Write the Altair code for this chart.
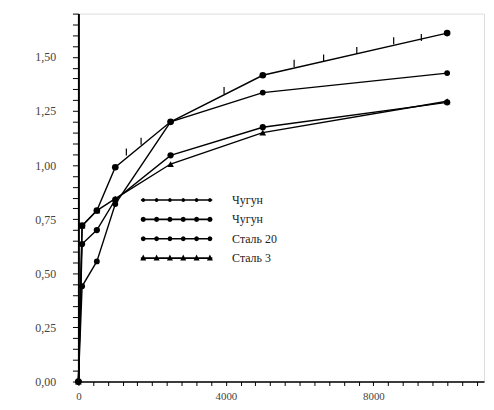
import altair as alt
import pandas as pd

# ---- data ----
x_vals = [0, 100, 500, 1000, 2500, 5000, 10000]
chugun_1 = [0.0, 0.72, 0.79, 0.99, 1.20, 1.415, 1.61]
chugun_2 = [0.0, 0.635, 0.70, 0.84, 1.045, 1.175, 1.29]
stal_20 = [0.0, 0.44, 0.555, 0.82, 1.20, 1.335, 1.425]
stal_3 = [0.0, 0.72, 0.79, 0.845, 1.005, 1.15, 1.295]

series_names = ["Чугун", "Чугун ", "Сталь 20", "Сталь 3"]
series_values = [chugun_1, chugun_2, stal_20, stal_3]

# intermediate cross marks on the upper curve
tick_x = [1300, 1700, 3950, 5850, 6650, 7550, 8550, 9300]
tick_y = [1.06, 1.11, 1.345, 1.47, 1.495, 1.53, 1.575, 1.59]

x_tick_values = list(range(0, 11000, 400))
y_tick_values = [round(i * 0.05, 2) for i in range(0, 35)]

rows = []
for name, vals in zip(series_names, series_values):
    for xv, yv in zip(x_vals, vals):
        rows.append({"x": xv, "y": yv, "series": name})
df = pd.DataFrame(rows)
ticks_df = pd.DataFrame({"x": tick_x, "y": tick_y})

FONT = "Liberation Serif"

x_enc = alt.X("x:Q", scale=alt.Scale(domain=[0, 11000], nice=False),
              axis=alt.Axis(values=x_tick_values,
                            labelExpr="datum.value % 4000 == 0 ? format(datum.value, 'd') : ''",
                            labelOverlap=False, labelFlush=False,
                            title=None, grid=False, tickSize=4, tickColor="black",
                            domainColor="black", domainWidth=1.5, labelPadding=5,
                            labelFont=FONT, labelFontSize=11, labelColor="#444"))
y_enc = alt.Y("y:Q", scale=alt.Scale(domain=[0, 1.7], nice=False),
              axis=alt.Axis(values=y_tick_values,
                            labelExpr="abs(datum.value*4 - round(datum.value*4)) < 0.001 ? replace(format(datum.value, '.2f'), '.', ',') : ''",
                            labelOverlap=False, labelFlush=False,
                            title=None, grid=False, tickSize=6, tickColor="black",
                            domainColor="black", domainWidth=2, labelPadding=17,
                            labelFont=FONT, labelFontSize=12, labelColor="#444"))

lines = alt.Chart(df).mark_line(color="black", strokeWidth=1.4).encode(
    x=x_enc, y=y_enc, detail="series:N", order="x:Q")

def pts(name, shape, size):
    return alt.Chart(df).transform_filter(alt.datum.series == name).mark_point(
        shape=shape, filled=True, color="black", size=size, opacity=1).encode(x=x_enc, y=y_enc)

p1 = pts("Чугун", "circle", 45)
p2 = pts("Чугун ", "circle", 40)
p3 = pts("Сталь 20", "circle", 35)
p4 = pts("Сталь 3", "triangle-up", 45)

crosses = alt.Chart(ticks_df).mark_point(
    shape="M0,-1L0,1", color="black", size=50, strokeWidth=1.2, filled=False, opacity=1
).encode(x=x_enc, y=y_enc)

# legend symbols: a line with six markers, in units of 6 px
def dotted(r, kind="circle"):
    parts = ["M-6,-0.14L6,-0.14L6,0.14L-6,0.14Z"]
    for cx in [-5.6, -3.36, -1.12, 1.12, 3.36, 5.6]:
        if kind == "circle":
            k = 0.7071 * r
            pts_ = [(cx + r, 0), (cx + k, k), (cx, r), (cx - k, k), (cx - r, 0),
                    (cx - k, -k), (cx, -r), (cx + k, -k)]
        else:
            pts_ = [(cx, -r * 1.2), (cx + r, r * 0.8), (cx - r, r * 0.8)]
        parts.append("M" + "L".join(f"{a:.3f},{b:.3f}" for a, b in pts_) + "Z")
    return "".join(parts)

legend_shapes = [dotted(0.33), dotted(0.45), dotted(0.42), dotted(0.5, "tri")]

legend_layer = alt.Chart(df).transform_filter("false").mark_point(
    filled=True, color="black", opacity=1).encode(
    x=x_enc, y=y_enc,
    shape=alt.Shape("series:N",
                    scale=alt.Scale(domain=series_names, range=legend_shapes),
                    legend=alt.Legend(title=None, orient="none", legendX=93, legendY=182,
                                      symbolSize=144, symbolStrokeWidth=0,
                                      symbolFillColor="black",
                                      labelFont=FONT, labelFontSize=12, labelColor="#222",
                                      labelOffset=50, rowPadding=7.5, padding=0)))

chart = alt.layer(lines, p1, p2, p3, p4, crosses, legend_layer).properties(
    width=409, height=371,
    autosize=alt.AutoSizeParams(type="none"),
    padding={"left": 71, "top": 4, "right": 2, "bottom": 19},
).configure_view(stroke="#333", strokeWidth=1).configure(background="white")

chart.save("out.html", embed_options={"renderer": "svg", "actions": False})
